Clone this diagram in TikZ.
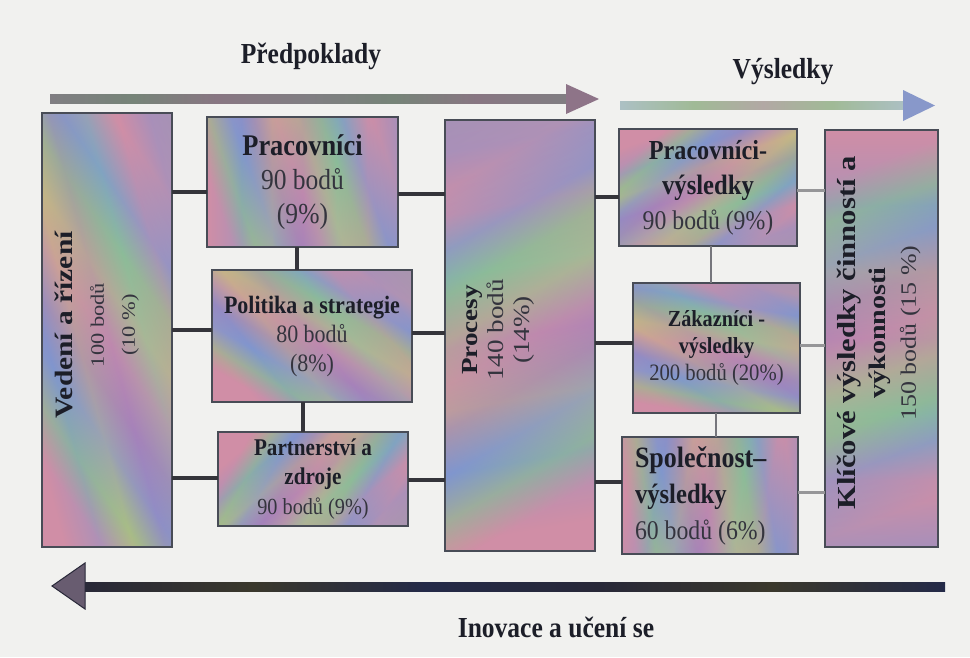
\documentclass[tikz,border=0pt]{standalone}
\usepackage{fontspec}
\setmainfont{Liberation Serif}
% narrow face for horizontal text, wide face for the rotated columns
\newfontfamily\hfont{Liberation Serif}[FakeStretch=0.88]
\newfontfamily\vfont{Liberation Serif}[FakeStretch=1.18]
\usetikzlibrary{calc}

\definecolor{paperC}{RGB}{241,241,239}
\definecolor{edgeC}{RGB}{72,76,86}
\definecolor{inkC}{RGB}{28,30,40}
\definecolor{numC}{RGB}{52,52,62}
\definecolor{linkC}{RGB}{52,52,58}
\definecolor{linkL}{RGB}{150,150,152}
\definecolor{linkM}{RGB}{118,118,124}

\definecolor{irPink}{RGB}{208,142,166}
\definecolor{irGreen}{RGB}{148,192,136}
\definecolor{irBlue}{RGB}{128,150,206}
\definecolor{irLilac}{RGB}{166,130,186}
\definecolor{irKhaki}{RGB}{196,184,132}
\definecolor{irTeal}{RGB}{130,182,176}

\definecolor{aOne}{RGB}{128,126,130}
\definecolor{aTwo}{RGB}{118,132,120}
\definecolor{aThree}{RGB}{136,118,130}
\definecolor{aHead}{RGB}{142,116,136}
\definecolor{bOne}{RGB}{172,192,196}
\definecolor{bTwo}{RGB}{160,186,150}
\definecolor{bThree}{RGB}{178,168,164}
\definecolor{bHead}{RGB}{136,152,202}
\definecolor{cOne}{RGB}{40,40,56}
\definecolor{cTwo}{RGB}{58,56,44}
\definecolor{cThree}{RGB}{36,42,72}
\definecolor{cHead}{RGB}{104,92,112}

% iridescent fills of the panels
\pgfdeclarehorizontalshading{irisA}{100bp}{color(0bp)=(irPink); color(25bp)=(irPink);
  color(31bp)=(irGreen); color(37bp)=(irBlue); color(43bp)=(irLilac); color(49bp)=(irPink);
  color(55bp)=(irKhaki); color(61bp)=(irGreen); color(67bp)=(irBlue); color(75bp)=(irPink);
  color(100bp)=(irLilac)}
\pgfdeclareverticalshading{irisB}{100bp}{color(0bp)=(irGreen); color(25bp)=(irBlue);
  color(33bp)=(irPink); color(41bp)=(irTeal); color(50bp)=(irLilac); color(58bp)=(irKhaki);
  color(66bp)=(irBlue); color(75bp)=(irPink); color(100bp)=(irPink)}
% shafts of the three flow arrows
\pgfdeclarehorizontalshading{shaftA}{100bp}{color(0bp)=(aOne); color(25bp)=(aOne);
  color(33bp)=(aTwo); color(41bp)=(aThree); color(50bp)=(aOne); color(58bp)=(aTwo);
  color(66bp)=(aThree); color(75bp)=(aOne); color(100bp)=(aOne)}
\pgfdeclarehorizontalshading{shaftB}{100bp}{color(0bp)=(bOne); color(25bp)=(bOne);
  color(38bp)=(bTwo); color(50bp)=(bThree); color(62bp)=(bTwo); color(75bp)=(bOne);
  color(100bp)=(bOne)}
\pgfdeclarehorizontalshading{shaftC}{100bp}{color(0bp)=(cOne); color(25bp)=(cOne);
  color(35bp)=(cTwo); color(45bp)=(cThree); color(55bp)=(cOne); color(65bp)=(cTwo);
  color(75bp)=(cThree); color(100bp)=(cThree)}

\tikzset{
  panel/.style={rectangle, draw=edgeC, line width=1.3pt, inner sep=0pt, outer sep=0pt,
    preaction={shade, shading=irisA, shading angle=#1, fill opacity=1},
    shade, shading=irisB, shading angle=#1+70, fill opacity=0.42, text opacity=1,
    text=inkC, align=center},
  vtext/.style={rotate=90, inner sep=0pt, align=center, text=inkC},
  heading/.style={inner sep=0pt, anchor=base, text=inkC,
    font=\hfont\bfseries\fontsize{29}{34}\selectfont},
  link/.style={draw=linkC, line width=3.2pt},
  linklight/.style={draw=linkL, line width=3pt},
  linkmid/.style={draw=linkM, line width=2.6pt},
}

\newcommand{\nums}{\color{numC}}

\begin{document}
\begin{tikzpicture}[x=1pt, y=-1pt]
\useasboundingbox (0,0) rectangle (970,657);
\fill[paperC] (0,0) rectangle (970,657);

% ---- flow arrows ----
\coordinate (aTail) at (50,99);
\coordinate (aTip)  at (599,99);
\shade[shading=shaftA] (50,94.5) rectangle (570,103.5);
\fill[aHead] (566,84) -- (aTip) -- (566,114) -- cycle;

\coordinate (bTail) at (620,105);
\coordinate (bTip)  at (935,105.5);
\shade[shading=shaftB] (620,101.5) rectangle (906,109);
\fill[bHead] (903,90) -- (bTip) -- (903,121) -- cycle;

\coordinate (cTail) at (945,587);
\coordinate (cTip)  at (52,586);
\shade[shading=shaftC] (80,582.5) rectangle (945,591.5);
\filldraw[fill=cHead, draw=cOne, line width=1pt] (85,563) -- (cTip) -- (85,609) -- cycle;

\node[heading] (predl) at (311,63) {Předpoklady};
\node[heading] (vysl)  at (783,78) {Výsledky};
\node[heading] (inov)  at (556,637) {Inovace a učení se};

% ---- enablers ----
\node[panel=35, minimum width=130pt, minimum height=434pt] (ved) at (107,330) {};
\node[vtext, font=\vfont\fontsize{19}{31}\selectfont] (vedtxt) at (97,325)
  {{\bfseries\fontsize{25}{31}\selectfont Vedení a řízení}\\ \nums 100 bodů\\ \nums (10 \%)};

\node[panel=20, minimum width=191pt, minimum height=130pt,
  font=\hfont\fontsize{29}{34}\selectfont] (prac) at (302.5,182)
  {{\bfseries\fontsize{30}{34}\selectfont Pracovníci}\\ \nums 90 bodů\\ \nums (9\%)};

\node[panel=60, minimum width=200pt, minimum height=132pt,
  font=\hfont\fontsize{25}{29}\selectfont] (pol) at (312,336)
  {{\bfseries Politika a strategie}\\ \nums 80 bodů\\ \nums (8\%)};

\node[panel=-30, minimum width=190pt, minimum height=94pt,
  font=\hfont\fontsize{23}{29.5}\selectfont] (part) at (313,479)
  {{\bfseries\fontsize{24}{29.5}\selectfont Partnerství a}\\
   {\bfseries\fontsize{24}{29.5}\selectfont zdroje}\\ \nums 90 bodů (9\%)};

\node[panel=120, minimum width=150pt, minimum height=431pt] (proc) at (520,335.5) {};
\node[vtext, font=\vfont\fontsize{23}{26}\selectfont] (proctxt) at (498,330)
  {{\bfseries Procesy}\\ \nums 140 bodů\\ \nums (14\%)};

% ---- results ----
\node[panel=-50, minimum width=178pt, minimum height=117pt,
  font=\hfont\fontsize{27}{35}\selectfont] (pv) at (708,187.5)
  {{\bfseries\fontsize{27.5}{35}\selectfont Pracovníci-}\\
   {\bfseries\fontsize{28}{35}\selectfont výsledky}\\ \nums 90 bodů (9\%)};

\node[panel=80, minimum width=167pt, minimum height=130pt,
  font=\hfont\fontsize{23.5}{27}\selectfont] (zak) at (716.5,348)
  {{\bfseries\fontsize{23}{27}\selectfont Zákazníci -}\\
   {\bfseries\fontsize{23}{27}\selectfont výsledky}\\ \nums 200 bodů (20\%)};

\node[panel=10, minimum width=176pt, minimum height=117pt,
  text width=150pt, align=flush left,
  font=\hfont\fontsize{27}{36}\selectfont] (spol) at (710,495.5)
  {{\bfseries\fontsize{29.5}{36}\selectfont Společnost–}\\
   {\bfseries\fontsize{28}{36}\selectfont výsledky}\\ \nums 60 bodů (6\%)};

\node[panel=-70, minimum width=113pt, minimum height=417pt] (klic) at (881.5,338.5) {};
\node[vtext, font=\vfont\fontsize{22}{30}\selectfont] (klictxt) at (879,333)
  {{\bfseries\fontsize{26}{30}\selectfont Klíčové výsledky činností a}\\
   {\bfseries\fontsize{23.8}{30}\selectfont výkonnosti}\\ \nums 150 bodů (15 \%)};

% ---- connectors ----
\draw[link] (ved.east |- 0,192) -- (prac.west |- 0,192);
\draw[link] (ved.east |- 0,330) -- (pol.west |- 0,330);
\draw[link] (ved.east |- 0,478) -- (part.west |- 0,478);
\draw[link] (prac.east |- 0,194) -- (proc.west |- 0,194);
\draw[link] (pol.east |- 0,333) -- (proc.west |- 0,333);
\draw[link] (part.east |- 0,480) -- (proc.west |- 0,480);
\draw[link] (prac.south -| 297,0) -- (pol.north -| 297,0);
\draw[link] (pol.south -| 303,0) -- (part.north -| 303,0);

\draw[link] (proc.east |- 0,197) -- (pv.west |- 0,197);
\draw[link] (proc.east |- 0,343) -- (zak.west |- 0,343);
\draw[link] (proc.east |- 0,482) -- (spol.west |- 0,482);
\draw[linkmid] (pv.south -| 711,0) -- (zak.north -| 711,0);
\draw[linkmid] (zak.south -| 716,0) -- (spol.north -| 716,0);
\draw[linklight] (pv.east |- 0,190) -- (klic.west |- 0,190);
\draw[linklight] (zak.east |- 0,345) -- (klic.west |- 0,345);
\draw[linklight] (spol.east |- 0,492) -- (klic.west |- 0,492);
\end{tikzpicture}
\end{document}
